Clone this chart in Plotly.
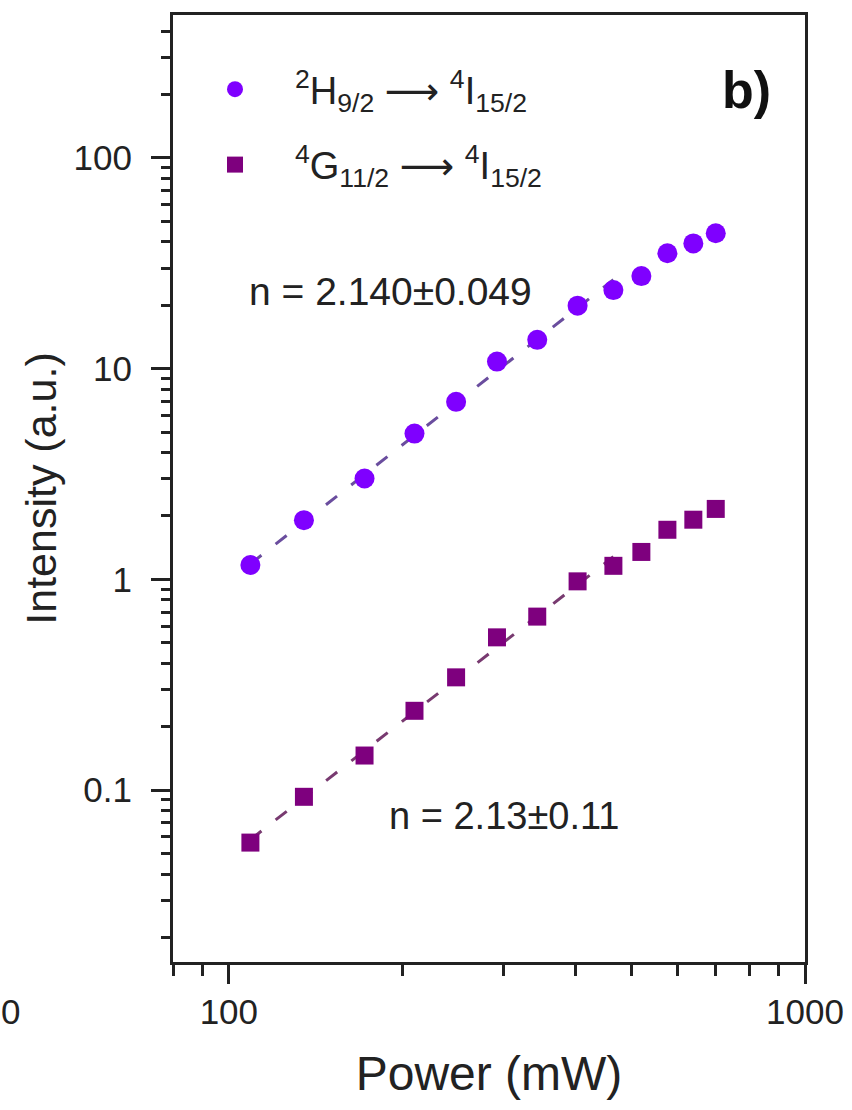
import numpy as np
import plotly.graph_objects as go

# Excitation power (mW) and integrated upconversion intensities (a.u.)
power_mw = [109, 135, 172, 210, 248, 292, 343, 403, 465, 520, 577, 640, 700]
green_h = [1.17, 1.91, 3.01, 4.92, 6.96, 10.8, 13.7, 19.9, 23.6, 27.5, 35.3, 39.3, 43.9]
violet_g = [0.0564, 0.093, 0.146, 0.238, 0.343, 0.531, 0.666, 0.979, 1.16, 1.35, 1.72, 1.92, 2.16]

# Slopes of the log-log power-law fits and the number of low-power points fitted
slope_h = 2.140
slope_g = 2.13
n_fit = 9

ARROW = "<span style='font-family:DejaVu Sans'>\u27f6</span>"
label_h = "<sup>2</sup>H<sub>9/2</sub> " + ARROW + " <sup>4</sup>I<sub>15/2</sub>"
label_g = "<sup>4</sup>G<sub>11/2</sub> " + ARROW + " <sup>4</sup>I<sub>15/2</sub>"
fit_text_h = "n = 2.140\u00b10.049"
fit_text_g = "n = 2.13\u00b10.11"

x_ticks = [100, 1000]
x_minor = [80, 90, 200, 300, 400, 500, 600, 700, 800, 900]
y_ticks = [0.1, 1, 10, 100]
y_tick_text = ["0.1", "1", "10", "100"]
y_minor = [m * d for d in (0.01, 0.1, 1, 10) for m in range(2, 10) if m * d > 0.015] + [200, 300, 400]

FONT = "Liberation Sans, Arial, sans-serif"
C_H = "#7f00ff"
C_G = "#7e007e"


def fit_line(x, y, slope, n):
    """Power-law line with a fixed exponent, intercept from the first n points."""
    lx = np.log10(np.asarray(x[:n], float))
    ly = np.log10(np.asarray(y[:n], float))
    b = np.mean(ly - slope * lx)
    xs = np.array([x[0], x[n - 1]], float)
    return xs, 10 ** (b + slope * np.log10(xs))


fig = go.Figure()

for y, slope, col in ((green_h, slope_h, "#6a4d9e"), (violet_g, slope_g, "#783a70")):
    fx, fy = fit_line(power_mw, y, slope, n_fit)
    fig.add_trace(go.Scatter(
        x=fx, y=fy, mode="lines", showlegend=False, hoverinfo="skip",
        line=dict(color=col, width=3, dash="14px,18px"),
    ))

fig.add_trace(go.Scatter(
    x=power_mw, y=green_h, mode="markers", name=label_h, legendgroup="h",
    marker=dict(symbol="circle", size=20, color=C_H, line=dict(width=0)),
))
fig.add_trace(go.Scatter(
    x=power_mw, y=violet_g, mode="markers", name=label_g, legendgroup="g",
    marker=dict(symbol="square", size=18, color=C_G, line=dict(width=0)),
))

axis_common = dict(
    showline=True, linewidth=3, linecolor="#222", mirror=True,
    ticks="outside", ticklen=19, tickwidth=2.5, tickcolor="#222",
    showgrid=False, zeroline=False, automargin=False,
    tickfont=dict(family=FONT, size=35, color="#222"),
)

fig.update_xaxes(
    type="log", range=[np.log10(80), 3],
    tickmode="array", tickvals=x_ticks, ticktext=[str(v) for v in x_ticks],
    minor=dict(tickmode="array", tickvals=x_minor, ticks="outside", ticklen=11,
               tickwidth=2.5, tickcolor="#222", showgrid=False),
    title_text="Power (mW)", title_standoff=27, ticklabelstandoff=-2,
    title_font=dict(family=FONT, size=48, color="#222"),
    **axis_common,
)
fig.update_yaxes(
    type="log", range=[np.log10(0.0153), 2.678],
    tickmode="array", tickvals=y_ticks, ticktext=y_tick_text,
    minor=dict(tickmode="array", tickvals=y_minor, ticks="outside", ticklen=9,
               tickwidth=2.5, tickcolor="#222", showgrid=False),
    title_text="Intensity (a.u.)", title_standoff=4, ticklabelstandoff=12,
    title_font=dict(family=FONT, size=43, color="#222"),
    **axis_common,
)

W, H = 852, 1110
ML, MR, MT, MB = 173, 47, 15, 148
pw, ph = W - ML - MR, H - MT - MB


def px(xp):
    return (xp - ML) / pw


def py(yp):
    return 1 - (yp - MT) / ph


fig.add_annotation(text=fit_text_h, x=px(390), y=py(291), xref="paper", yref="paper",
                   showarrow=False, font=dict(family=FONT, size=39, color="#222"),
                   xanchor="center", yanchor="middle")
fig.add_annotation(text=fit_text_g, x=px(504), y=py(816), xref="paper", yref="paper",
                   showarrow=False, font=dict(family=FONT, size=38, color="#222"),
                   xanchor="center", yanchor="middle")
fig.add_annotation(text="<b>b)</b>", x=px(746), y=py(90), xref="paper", yref="paper",
                   showarrow=False, font=dict(family=FONT, size=52, color="#111"),
                   xanchor="center", yanchor="middle")
# tail of the neighbouring panel's x tick label
fig.add_annotation(text="0", x=px(22), y=py(1011), xref="paper", yref="paper",
                   showarrow=False, font=dict(family=FONT, size=35, color="#222"),
                   xanchor="right", yanchor="middle")

fig.update_layout(
    width=W, height=H,
    margin=dict(l=ML, r=MR, t=MT, b=MB, pad=0),
    paper_bgcolor="white", plot_bgcolor="white",
    showlegend=True,
    legend=dict(
        x=px(175), y=py(58), xanchor="left", yanchor="top",
        font=dict(family=FONT, size=38, color="#222"),
        bgcolor="rgba(0,0,0,0)", borderwidth=0,
        itemwidth=110, tracegroupgap=23, itemsizing="trace",
    ),
)

fig.write_html("out.html")
